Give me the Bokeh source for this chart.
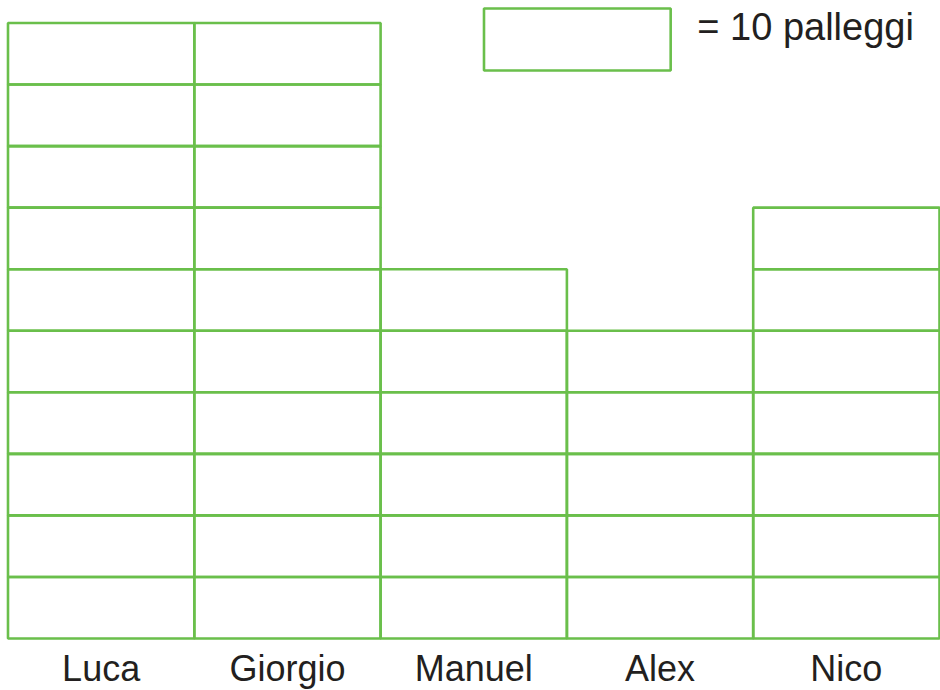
from bokeh.plotting import figure
from bokeh.models import Range1d, ColumnDataSource
from bokeh.core.properties import value
from bokeh.embed import file_html
from bokeh.resources import INLINE

# data
names = ["Luca", "Giorgio", "Manuel", "Alex", "Nico"]
palleggi = [100, 100, 60, 50, 70]
unit = 10
legend_label = "= 10 palleggi"

GREEN = "#6abf4b"
TEXT = "#231f20"
FONT = "Liberation Sans"

W, H = 940, 690
px_x = 186.3   # pixels per column
px_y = 61.55   # pixels per box
x0 = 7.5       # px of x=0 from left
y0 = 52        # px (from bottom) of y=0

xs = -x0 / px_x
ys = -y0 / px_y
p = figure(width=W, height=H, output_backend="svg", toolbar_location=None,
           x_range=Range1d(xs, xs + W / px_x), y_range=Range1d(ys, ys + H / px_y),
           min_border=0, min_border_left=0, min_border_right=0,
           min_border_top=0, min_border_bottom=0)
p.axis.visible = False
p.grid.visible = False
p.outline_line_color = None
p.background_fill_color = "white"
p.border_fill_color = "white"

left, right, bottom, top = [], [], [], []
for i, v in enumerate(palleggi):
    for k in range(int(round(v / unit))):
        left.append(i)
        right.append(i + 1)
        bottom.append(k)
        top.append(k + 1)
p.quad(left=left, right=right, bottom=bottom, top=top,
       fill_color=None, line_color=GREEN, line_width=2.6)

# legend box
p.quad(left=[2.555], right=[3.557], bottom=[9.228], top=[10.236],
       fill_color=None, line_color=GREEN, line_width=2.6)
p.text(x=[3.70], y=[9.943], text=[legend_label], text_font=value(FONT),
       text_font_size="38px", text_color=TEXT, text_align="left",
       text_baseline="middle")

# category labels
src = ColumnDataSource(dict(x=[i + 0.5 for i in range(len(names))],
                            y=[-0.49] * len(names), t=names))
p.text(x="x", y="y", text="t", source=src, text_font=value(FONT),
       text_font_size="36px", text_color=TEXT, text_align="center",
       text_baseline="middle")

open("out.html", "w").write(file_html(p, INLINE))
